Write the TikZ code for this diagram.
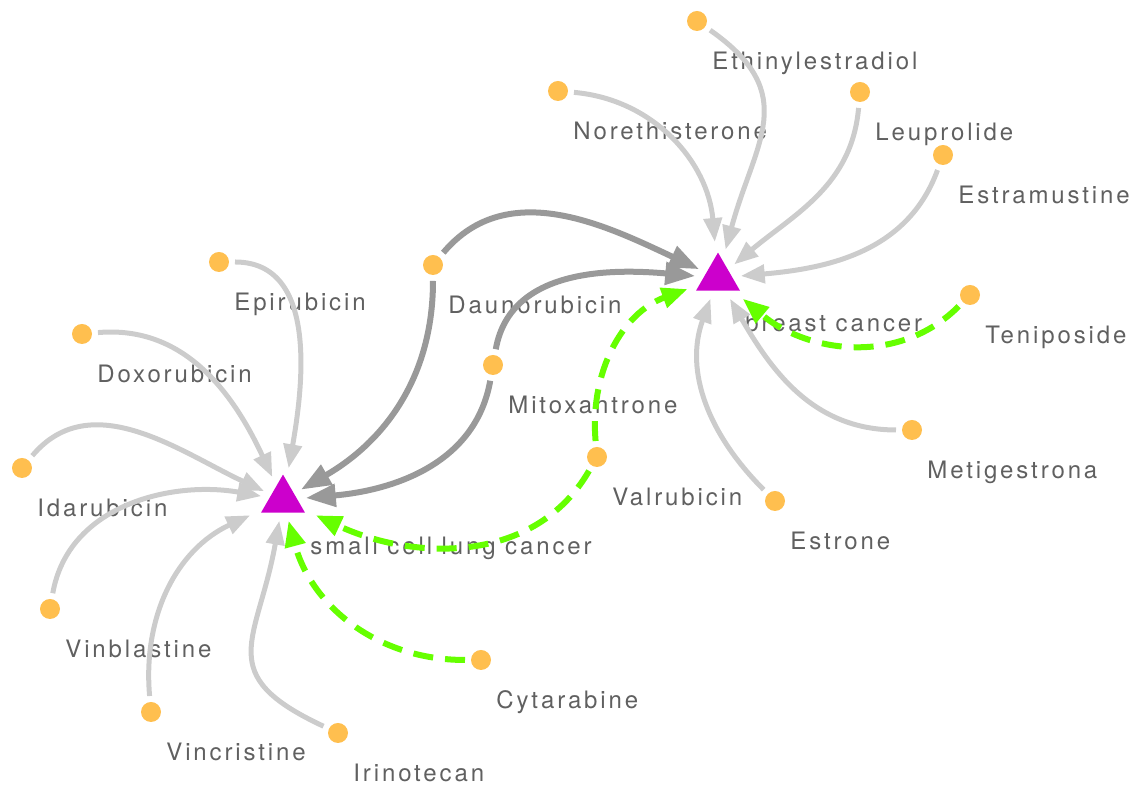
\documentclass[tikz,border=0pt]{standalone}
\usepackage{fontspec}
\setmainfont{TeX Gyre Heros}[LetterSpace=12]
\usetikzlibrary{arrows.meta,shapes.geometric}
\definecolor{dotorange}{HTML}{FFBF4F}
\definecolor{trimagenta}{HTML}{CC00CC}
\definecolor{lightedge}{HTML}{CCCCCC}
\definecolor{darkedge}{HTML}{999999}
\definecolor{greenedge}{HTML}{66FF00}
\definecolor{labelgray}{HTML}{606060}

\begin{document}
\begin{tikzpicture}[x=0.5pt, y=0.5pt,
  drug/.style={circle, fill=dotorange, minimum size=10pt, inner sep=0pt, outer sep=3pt},
  disease/.style={regular polygon, regular polygon sides=3, fill=trimagenta,
    minimum size=25.4pt, inner sep=0pt, outer sep=4pt},
  lbl/.style={anchor=base west, inner sep=0pt, text=labelgray,
    font=\fontsize{12}{14}\selectfont},
  plainedge/.style={draw=lightedge, line width=2.5pt, -{Triangle[length=12pt,width=9pt]}},
  strongedge/.style={draw=darkedge, line width=3pt, -{Triangle[length=15pt,width=11pt]}},
  trialedge/.style={draw=greenedge, line width=3pt, dash pattern=on 10pt off 6pt,
    -{Triangle[length=13pt,width=10pt]}}]
\useasboundingbox (0,0) rectangle (1132,785);
% Diseases
\node[disease] (sclc) at (283,285) {};
\node[disease] (bc) at (718,507) {};
\node[lbl] (sclcL) at ([shift={(27,-55)}]sclc) {small cell lung cancer};
\node[lbl] (bcL) at ([shift={(27,-54)}]bc) {breast cancer};
% Drugs around breast cancer
\node[drug] (ethi) at (697,764) {};
\node[drug] (nore) at (558,694) {};
\node[drug] (leup) at (860,693) {};
\node[drug] (estm) at (943,630) {};
\node[drug] (teni) at (970,490) {};
\node[drug] (meti) at (912,355) {};
\node[drug] (estr) at (775,284) {};
% Drugs shared by both
\node[drug] (valr) at (597,328) {};
\node[drug] (mito) at (493,420) {};
\node[drug] (daun) at (433,520) {};
% Drugs around small cell lung cancer
\node[drug] (epir) at (219,523) {};
\node[drug] (doxo) at (82,451) {};
\node[drug] (idar) at (22,317) {};
\node[drug] (vinb) at (50,176) {};
\node[drug] (vinc) at (151,73) {};
\node[drug] (irin) at (338,52) {};
\node[drug] (cyta) at (481,125) {};
% Drug labels
\node[lbl] (ethiL) at ([shift={(15,-49)}]ethi) {Ethinylestradiol};
\node[lbl] (noreL) at ([shift={(15,-49)}]nore) {Norethisterone};
\node[lbl] (leupL) at ([shift={(15,-49)}]leup) {Leuprolide};
\node[lbl] (estmL) at ([shift={(15,-49)}]estm) {Estramustine};
\node[lbl] (teniL) at ([shift={(15,-49)}]teni) {Teniposide};
\node[lbl] (metiL) at ([shift={(15,-49)}]meti) {Metigestrona};
\node[lbl] (estrL) at ([shift={(15,-49)}]estr) {Estrone};
\node[lbl] (valrL) at ([shift={(15,-49)}]valr) {Valrubicin};
\node[lbl] (mitoL) at ([shift={(15,-49)}]mito) {Mitoxantrone};
\node[lbl] (daunL) at ([shift={(15,-49)}]daun) {Daunorubicin};
\node[lbl] (epirL) at ([shift={(15,-49)}]epir) {Epirubicin};
\node[lbl] (doxoL) at ([shift={(15,-49)}]doxo) {Doxorubicin};
\node[lbl] (idarL) at ([shift={(15,-49)}]idar) {Idarubicin};
\node[lbl] (vinbL) at ([shift={(15,-49)}]vinb) {Vinblastine};
\node[lbl] (vincL) at ([shift={(15,-49)}]vinc) {Vincristine};
\node[lbl] (irinL) at ([shift={(15,-49)}]irin) {Irinotecan};
\node[lbl] (cytaL) at ([shift={(15,-49)}]cyta) {Cytarabine};
% Edges into breast cancer
\draw[plainedge] (nore) to[out=-5,in=95] (bc);
\draw[plainedge] (ethi) to[out=-35,in=75,looseness=1.3] (bc);
\draw[plainedge] (leup) to[out=-95,in=40] (bc);
\draw[plainedge] (estm) to[out=-110,in=5] (bc);
\draw[plainedge] (meti) to[out=180,in=-60] (bc);
\draw[plainedge] (estr) to[out=135,in=-110] (bc);
\draw[trialedge] (teni) to[out=-135,in=-40] (bc);
\draw[strongedge] (daun) to[out=50,in=155] (bc);
\draw[strongedge] (mito) to[out=80,in=175] (bc);
\draw[trialedge] (valr) to[out=95,in=-160] (bc);
% Edges into small cell lung cancer
\draw[strongedge] (daun) to[out=-90,in=30] (sclc);
\draw[strongedge] (mito) to[out=-100,in=5] (sclc);
\draw[trialedge] (valr) to[out=-120,in=-25] (sclc);
\draw[plainedge] (epir) to[out=0,in=80] (sclc);
\draw[plainedge] (doxo) to[out=5,in=115] (sclc);
\draw[plainedge] (idar) to[out=50,in=155] (sclc);
\draw[plainedge] (vinb) to[out=80,in=170] (sclc);
\draw[plainedge] (vinc) to[out=95,in=-155] (sclc);
\draw[plainedge] (irin) to[out=155,in=-100,looseness=1.5] (sclc);
\draw[trialedge] (cyta) to[out=180,in=-75] (sclc);
\end{tikzpicture}
\end{document}
